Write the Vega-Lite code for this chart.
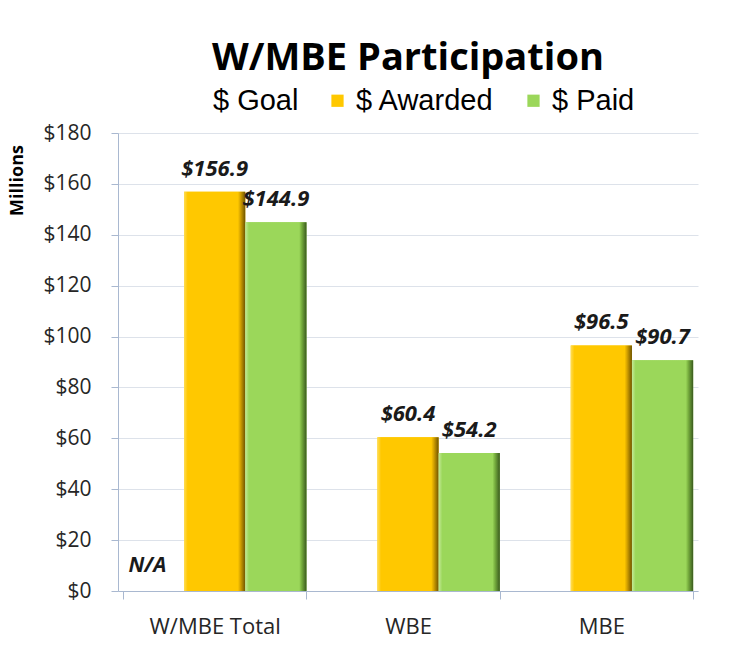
{
  "$schema": "https://vega.github.io/schema/vega-lite/v6.json",
  "autosize": "none",
  "width": 580,
  "height": 458,
  "padding": {"left": 118, "top": 133, "right": 37, "bottom": 69},
  "background": "white",
  "title": {
    "text": "W/MBE Participation",
    "font": "Open Sans",
    "fontSize": 38,
    "fontWeight": "bold",
    "color": "#000000",
    "anchor": "middle",
    "offset": 8
  },
  "data": {
    "values": [
      {"category": "W/MBE Total", "series": "$ Goal", "value": null, "label": "N/A"},
      {"category": "W/MBE Total", "series": "$ Awarded", "value": 156.9, "label": "$156.9"},
      {"category": "W/MBE Total", "series": "$ Paid", "value": 144.9, "label": "$144.9"},
      {"category": "WBE", "series": "$ Goal", "value": null, "label": ""},
      {"category": "WBE", "series": "$ Awarded", "value": 60.4, "label": "$60.4"},
      {"category": "WBE", "series": "$ Paid", "value": 54.2, "label": "$54.2"},
      {"category": "MBE", "series": "$ Goal", "value": null, "label": ""},
      {"category": "MBE", "series": "$ Awarded", "value": 96.5, "label": "$96.5"},
      {"category": "MBE", "series": "$ Paid", "value": 90.7, "label": "$90.7"}
    ]
  },
  "encoding": {
    "x": {
      "field": "category",
      "type": "nominal",
      "sort": ["W/MBE Total", "WBE", "MBE"],
      "scale": {"paddingInner": 0.05, "paddingOuter": 0.025},
      "axis": {
        "title": null,
        "labelAngle": 0,
        "labelFont": "Open Sans",
        "labelFontSize": 22,
        "labelColor": "#262626",
        "labelPadding": 17,
        "tickBand": "extent",
        "tickSize": 8,
        "tickColor": "#a9b8d0",
        "domainColor": "#a9b8d0",
        "grid": false
      }
    },
    "xOffset": {
      "field": "series",
      "type": "nominal",
      "scale": {"domain": ["$ Goal", "$ Awarded", "$ Paid"], "paddingInner": 0, "paddingOuter": 0}
    },
    "y": {
      "field": "value",
      "type": "quantitative",
      "scale": {"domain": [0, 180], "nice": false},
      "axis": {
        "title": "Millions",
        "titleFont": "Open Sans",
        "titleFontSize": 18,
        "titleFontWeight": "bold",
        "titleColor": "#000000",
        "titleAngle": -90,
        "titleAlign": "center",
        "titleBaseline": "middle",
        "titleX": -101,
        "titleY": 47,
        "values": [0, 20, 40, 60, 80, 100, 120, 140, 160, 180],
        "format": "$.0f",
        "labelFont": "Open Sans",
        "labelFontSize": 21,
        "labelColor": "#262626",
        "labelPadding": 20,
        "tickSize": 7,
        "tickColor": "#a9b8d0",
        "domainColor": "#a9b8d0",
        "grid": true,
        "gridColor": "#dde2ea"
      }
    }
  },
  "layer": [
    {
      "mark": {"type": "bar"},
      "encoding": {
        "color": {
          "field": "series",
          "type": "nominal",
          "scale": {"domain": ["$ Goal", "$ Awarded", "$ Paid"], "range": ["transparent", "#FFC800", "#9BD75A"]},
          "legend": {
            "title": null,
            "orient": "none",
            "direction": "horizontal",
            "legendX": 62,
            "legendY": -47,
            "symbolType": "square",
            "symbolSize": 150,
            "symbolStrokeWidth": 0,
            "labelFont": "Liberation Sans",
            "labelFontSize": 29,
            "labelColor": "#000000",
            "labelOffset": 4,
            "columnPadding": 24,
            "labelLimit": 300
          }
        }
      }
    },
    {
      "transform": [{"filter": "datum.series === '$ Awarded'"}],
      "mark": {
        "type": "bar",
        "fill": {
          "gradient": "linear", "x1": 0, "x2": 1, "y1": 0, "y2": 0,
          "stops": [
            {"offset": 0, "color": "#FFDD55"},
            {"offset": 0.06, "color": "#FFC800"},
            {"offset": 0.88, "color": "#FFC800"},
            {"offset": 0.92, "color": "#D4A200"},
            {"offset": 1, "color": "#6E5400"}
          ]
        }
      }
    },
    {
      "transform": [{"filter": "datum.series === '$ Paid'"}],
      "mark": {
        "type": "bar",
        "fill": {
          "gradient": "linear", "x1": 0, "x2": 1, "y1": 0, "y2": 0,
          "stops": [
            {"offset": 0, "color": "#C4EA98"},
            {"offset": 0.06, "color": "#9BD75A"},
            {"offset": 0.88, "color": "#9BD75A"},
            {"offset": 0.92, "color": "#77AE3E"},
            {"offset": 1, "color": "#3A5A1E"}
          ]
        }
      }
    },
    {
      "transform": [{"filter": "isValid(datum.value)"}],
      "mark": {
        "type": "text",
        "font": "Open Sans",
        "fontSize": 22,
        "fontWeight": "bold",
        "fontStyle": "italic",
        "color": "#1a1a1a",
        "baseline": "alphabetic",
        "dy": -16
      },
      "encoding": {"text": {"field": "label"}}
    },
    {
      "transform": [{"filter": "datum.label === 'N/A'"}],
      "mark": {
        "type": "text",
        "invalid": null,
        "font": "Open Sans",
        "fontSize": 21,
        "fontWeight": "bold",
        "fontStyle": "italic",
        "color": "#1a1a1a",
        "baseline": "alphabetic",
        "dx": -6,
        "dy": -19
      },
      "encoding": {"y": {"datum": 0, "type": "quantitative"}, "text": {"field": "label"}}
    }
  ],
  "config": {
    "view": {"stroke": null}
  }
}
